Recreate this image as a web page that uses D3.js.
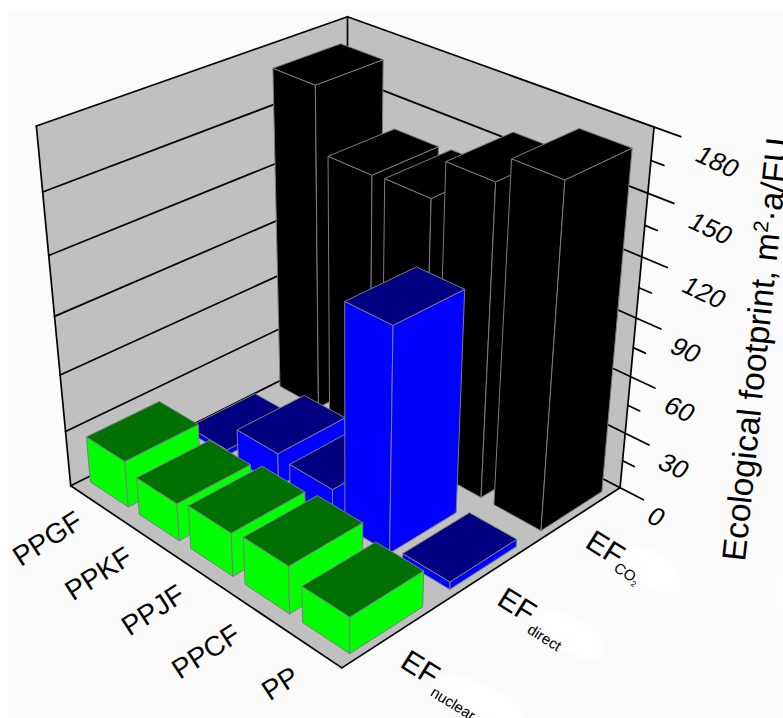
<!DOCTYPE html>
<html><head><meta charset="utf-8"><script src="https://cdnjs.cloudflare.com/ajax/libs/d3/7.8.5/d3.min.js"></script>
<style>html,body{margin:0;padding:0;background:#fff}svg{display:block;font-family:"Liberation Sans",Arial,sans-serif}</style></head><body>
<svg id="c" width="783" height="718"></svg>
<script>
const categories = ["PPGF","PPKF","PPJF","PPCF","PP"];
const seriesNames = ["nuclear","direct","CO2"];
const efNuclear = [25,20,23,25,19];
const efDirect = [3,18,16,115,4];
const efCO2 = [170,138,139,159,172];
const zTicks = [0,30,60,90,120,150,180];
const zMinor = [15,45,75,105,135,165];
const seriesValues = {nuclear:efNuclear, direct:efDirect, CO2:efCO2};
const topColors = {nuclear:"#007000", direct:"#000080", CO2:"#000000"};
const sideColors = {nuclear:"#00ff00", direct:"#0000ff", CO2:"#000000"};

// camera calibration: cube corners (u,v,w) -> screen
const calib = [
 [0,0,0,70,483],[1,0,0,342,670],[1,1,0,620,485],[0,1,0,348,350],
 [0,0,1,37,127],[0,1,1,347,15],[1,1,1,654,128]];
function solve(A,b){const n=b.length;const M=A.map((r,i)=>[...r,b[i]]);
 for(let i=0;i<n;i++){let p=i;for(let k=i+1;k<n;k++)if(Math.abs(M[k][i])>Math.abs(M[p][i]))p=k;[M[i],M[p]]=[M[p],M[i]];
  for(let k=0;k<n;k++){if(k===i)continue;const f=M[k][i]/M[i][i];for(let j=i;j<=n;j++)M[k][j]-=f*M[i][j];}}
 return M.map((r,i)=>r[n]/r[i]);}
const rows=[],rhs=[];
calib.forEach(([x,y,z,a,b])=>{a/=1000;b/=1000;
 rows.push([x,y,z,1,0,0,0,0,-a*x,-a*y,-a*z]);rhs.push(a);
 rows.push([0,0,0,0,x,y,z,1,-b*x,-b*y,-b*z]);rhs.push(b);});
const ATA=d3.range(11).map(i=>d3.range(11).map(j=>d3.sum(rows,r=>r[i]*r[j])));
const ATb=d3.range(11).map(i=>d3.sum(rows,(r,k)=>r[i]*rhs[k]));
const P=solve(ATA,ATb);
function proj(u,v,w){const d=P[8]*u+P[9]*v+P[10]*w+1;
 return [1000*(P[0]*u+P[1]*v+P[2]*w+P[3])/d,1000*(P[4]*u+P[5]*v+P[6]*w+P[7])/d];}

const uScale=d3.scaleBand().domain(categories).range([0,1]).paddingInner(0.22).paddingOuter(0.11);
const vScale=d3.scaleBand().domain(seriesNames).range([0,1]).paddingInner(0.28).paddingOuter(0.14);
const zScale=d3.scaleLinear().domain([0,180]).range([0,1]);
const line=d3.line();
const svg=d3.select("#c");
const poly=pts=>line(pts.map(p=>proj(...p)))+"Z";
const seg=(a,b)=>line([proj(...a),proj(...b)]);

// backdrop
svg.append("rect").attr("x",8).attr("y",10).attr("width",775).attr("height",708).attr("fill","#fbfbfb");
const defs=svg.append("defs");
defs.append("filter").attr("id","soft").append("feGaussianBlur").attr("stdDeviation",3);
[[652,570,32,17,32],[570,635,38,17,30],[482,700,46,15,26],[782,592,5,20,0]].forEach(([x,y,rx,ry,a])=>{
 svg.append("ellipse").attr("rx",rx).attr("ry",ry).attr("fill","#fff").attr("filter","url(#soft)")
  .attr("transform",`translate(${x},${y}) rotate(${a})`);});

// walls and floor
const wall="#c0c0c0";
svg.append("path").attr("d",poly([[0,0,0],[0,1,0],[0,1,1],[0,0,1]])).attr("fill",wall);
svg.append("path").attr("d",poly([[0,1,0],[1,1,0],[1,1,1],[0,1,1]])).attr("fill",wall);
svg.append("path").attr("d",poly([[0,0,0],[1,0,0],[1,1,0],[0,1,0]])).attr("fill",wall);

const ax=svg.append("g").attr("stroke","#000").attr("stroke-width",1.7).attr("fill","none").attr("stroke-linecap","round");
zTicks.forEach(t=>{const w=zScale(t);
 ax.append("path").attr("d",seg([0,0,w],[0,1,w]));
 ax.append("path").attr("d",seg([0,1,w],[1.075,1,w]));});
zMinor.forEach(t=>{const w=zScale(t);ax.append("path").attr("d",seg([1,1,w],[1.037,1,w]));});
ax.append("path").attr("d",seg([0,0,0],[0,0,1]));
ax.append("path").attr("d",seg([0,1,0],[0,1,1]));
ax.append("path").attr("d",seg([1,1,0],[1,1,1]));
ax.append("path").attr("d",seg([0,0,0],[1,0,0]));
ax.append("path").attr("d",seg([1,0,0],[1,1,0]));

// bars, far to near
const edge="#7c7c86";
[...seriesNames].reverse().forEach(s=>{
 categories.forEach((c,i)=>{
  const u0=uScale(c),u1=u0+uScale.bandwidth(),v0=vScale(s),v1=v0+vScale.bandwidth(),w=zScale(seriesValues[s][i]);
  const g=svg.append("g").attr("stroke",edge).attr("stroke-width",1).attr("stroke-linejoin","round");
  g.append("path").attr("d",poly([[u0,v0,0],[u1,v0,0],[u1,v0,w],[u0,v0,w]])).attr("fill",sideColors[s]);
  g.append("path").attr("d",poly([[u1,v0,0],[u1,v1,0],[u1,v1,w],[u1,v0,w]])).attr("fill",sideColors[s]);
  g.append("path").attr("d",poly([[u0,v0,w],[u1,v0,w],[u1,v1,w],[u0,v1,w]])).attr("fill",topColors[s]);
 });
});

// category labels
categories.forEach((c,i)=>{
 const [x,y]=proj(uScale(c)+uScale.bandwidth()/2,0,0);
 svg.append("text").text(c).attr("font-size",28).attr("text-anchor","end").attr("fill","#000")
  .attr("transform",`translate(${x-10},${y+24+2.5*i}) rotate(-33)`);
});
// series labels
seriesNames.forEach(s=>{
 const [x,y]=proj(1,vScale(s)+vScale.bandwidth()/2,0);
 const t=svg.append("text").attr("font-size",30).attr("fill","#000")
  .attr("transform",`translate(${x+5},${y+32}) rotate(32)`);
 t.append("tspan").text("EF");
 if(s==="CO2"){
  t.append("tspan").text("CO").attr("font-size",15).attr("dy",5).attr("dx",-1);
  t.append("tspan").text("2").attr("font-size",8).attr("dy",3);
 } else {
  t.append("tspan").text(s).attr("font-size",15).attr("dy",8).attr("dx",3);
 }
});
// value labels
zTicks.forEach(t=>{
 const [x,y]=proj(1.075,1,zScale(t));const n=String(t).length;
 svg.append("text").text(t).attr("font-size",26).attr("text-anchor","middle").attr("dominant-baseline","central")
  .attr("fill","#000").attr("transform",`translate(${x+1+12*n},${y+13+4*n}) rotate(25) skewX(-8)`);
});
// axis title
const title=svg.append("text").attr("font-size",33.5).attr("fill","#000")
 .attr("transform","translate(745,562) rotate(-84)");
title.append("tspan").text("Ecological footprint, m");
title.append("tspan").text("2").attr("font-size",21).attr("dy",-12);
title.append("tspan").text("·a/FU").attr("dy",12);
</script></body></html>
